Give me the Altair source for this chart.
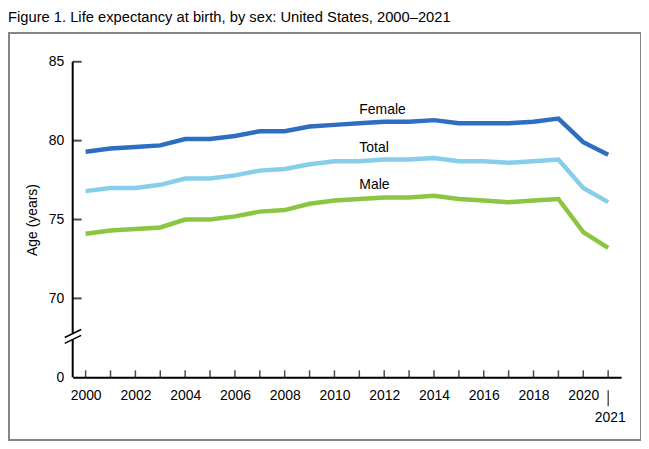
import altair as alt
import pandas as pd

years = list(range(2000, 2022))
female = [79.3, 79.5, 79.6, 79.7, 80.1, 80.1, 80.3, 80.6, 80.6, 80.9, 81.0,
          81.1, 81.2, 81.2, 81.3, 81.1, 81.1, 81.1, 81.2, 81.4, 79.9, 79.1]
total = [76.8, 77.0, 77.0, 77.2, 77.6, 77.6, 77.8, 78.1, 78.2, 78.5, 78.7,
         78.7, 78.8, 78.8, 78.9, 78.7, 78.7, 78.6, 78.7, 78.8, 77.0, 76.1]
male = [74.1, 74.3, 74.4, 74.5, 75.0, 75.0, 75.2, 75.5, 75.6, 76.0, 76.2,
        76.3, 76.4, 76.4, 76.5, 76.3, 76.2, 76.1, 76.2, 76.3, 74.2, 73.2]

series_names = ["Female", "Total", "Male"]
series_colors = ["#2E6EC0", "#86CEEA", "#8BC541"]
label_years = [2011, 2011, 2011]
label_values = [81.97, 79.51, 77.18]

y_tick_values = [65, 70, 75, 80, 85]
x_label_values = list(range(2000, 2021, 2))
title_text = "Figure 1. Life expectancy at birth, by sex: United States, 2000\u20132021"
FONT = "Liberation Sans"

rows = []
for name, vals in zip(series_names, [female, total, male]):
    for yr, v in zip(years, vals):
        rows.append({"year": yr, "value": v, "series": name})
df = pd.DataFrame(rows)
labels_df = pd.DataFrame({"year": label_years, "value": label_values, "series": series_names})

W, H = 551, 317
xscale = alt.Scale(domain=[1999.48, 2021.52], nice=False, zero=False)
yscale = alt.Scale(domain=[65, 85], nice=False, zero=False)
color = alt.Color("series:N", scale=alt.Scale(domain=series_names, range=series_colors), legend=None)

border = alt.Chart(pd.DataFrame({"a": [0]})).mark_rect(
    filled=False, stroke="#858585", strokeWidth=2
).encode(x=alt.value(-64), x2=alt.value(571), y=alt.value(-29), y2=alt.value(380))

title = alt.Chart(pd.DataFrame({"t": [title_text]})).mark_text(
    align="left", baseline="alphabetic", fontSize=14.8, font=FONT, color="black"
).encode(x=alt.value(-65), y=alt.value(-40), text="t:N")

lines = alt.Chart(df).mark_line(strokeWidth=4.5, strokeJoin="miter").encode(
    x=alt.X("year:Q", scale=xscale,
            axis=alt.Axis(values=x_label_values, format="d", title=None, grid=False,
                          ticks=False, tickSize=0, domain=True, domainColor="black",
                          domainWidth=2, labelFontSize=14, labelFont=FONT,
                          labelColor="black", labelPadding=11, labelFlush=False)),
    y=alt.Y("value:Q", scale=yscale,
            axis=alt.Axis(values=y_tick_values, title="Age (years)", grid=False,
                          ticks=False, tickSize=0, domain=False,
                          labelExpr="datum.value == 65 ? '0' : datum.value",
                          labelFontSize=14, labelFont=FONT, labelColor="black",
                          labelPadding=9, titleFont=FONT, titleFontSize=14,
                          titleFontWeight="normal", titleColor="black", titlePadding=9)),
    color=color,
    detail="series:N",
)

# y axis line with break
yaxis_df = pd.DataFrame({"y1": [85, 67.4], "y2": [67.78, 65]})
yaxis = alt.Chart(yaxis_df).mark_rule(color="black", strokeWidth=2).encode(
    x=alt.value(0), y=alt.Y("y1:Q", scale=yscale), y2="y2:Q")

brk_df = pd.DataFrame({"x1": [1999.16, 1999.16], "x2": [1999.82, 1999.82],
                       "y1": [67.52, 67.15], "y2": [68.03, 67.66]})
brk = alt.Chart(brk_df).mark_rule(color="black", strokeWidth=1.5).encode(
    x=alt.X("x1:Q", scale=xscale), x2="x2:Q",
    y=alt.Y("y1:Q", scale=yscale), y2="y2:Q")

ytick_df = pd.DataFrame({"v": [70, 75, 80, 85]})
yticks = alt.Chart(ytick_df).mark_tick(orient="horizontal", color="black", size=9, thickness=2).encode(
    x=alt.value(4.5), y=alt.Y("v:Q", scale=yscale))

xtick_df = pd.DataFrame({"yr": years})
xticks = alt.Chart(xtick_df).mark_tick(orient="vertical", color="black", size=7, thickness=1.5).encode(
    x=alt.X("yr:Q", scale=xscale), y=alt.value(H - 3.5))

text_labels = alt.Chart(labels_df).mark_text(
    align="left", baseline="middle", fontSize=14, font=FONT, color="black"
).encode(x=alt.X("year:Q", scale=xscale), y=alt.Y("value:Q", scale=yscale), text="series:N")

last_df = pd.DataFrame({"yr": [2021], "lab": ["2021"]})
last_rule = alt.Chart(last_df).mark_rule(color="black", strokeWidth=1).encode(
    x=alt.X("yr:Q", scale=xscale), y=alt.value(H + 13), y2=alt.value(H + 29))
last_text = alt.Chart(last_df).mark_text(
    align="center", baseline="middle", fontSize=14, font=FONT, color="black", dx=2
).encode(x=alt.X("yr:Q", scale=xscale), y=alt.value(H + 41), text="lab:N")

chart = alt.layer(border, title, lines, yaxis, brk, yticks, xticks, text_labels, last_rule, last_text).properties(
    width=W, height=H,
    autosize=alt.AutoSizeParams(type="none"),
    padding={"left": 65, "top": 53, "right": 20, "bottom": 63},
).configure_view(stroke=None)

chart.save("out.html", embed_options={"renderer": "svg", "actions": False})
